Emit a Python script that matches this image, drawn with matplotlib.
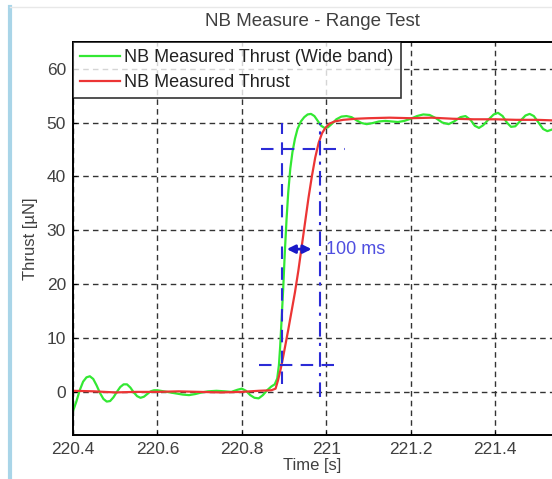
import matplotlib.pyplot as plt
from matplotlib.lines import Line2D

# Step 1: data
# wide band measurement (green)
t_wide = [220.400, 220.408, 220.416, 220.424, 220.432, 220.440, 220.448, 220.456, 220.464, 220.472,
          220.480, 220.488, 220.496, 220.504, 220.512, 220.520, 220.528, 220.536, 220.544, 220.552,
          220.560, 220.568, 220.576, 220.584, 220.592, 220.600, 220.615, 220.630, 220.645, 220.660,
          220.675, 220.690, 220.705, 220.720, 220.740, 220.760, 220.775, 220.790, 220.800, 220.810,
          220.820, 220.830, 220.840, 220.850, 220.860, 220.870, 220.878, 220.884, 220.888, 220.891,
          220.894, 220.898, 220.902, 220.906, 220.910, 220.915, 220.920, 220.926, 220.932, 220.940,
          220.948, 220.956, 220.964, 220.972, 220.980, 220.988, 220.996, 221.004, 221.014, 221.024,
          221.036, 221.048, 221.060, 221.072, 221.084, 221.096, 221.110, 221.125, 221.140, 221.155,
          221.170, 221.185, 221.200, 221.215, 221.230, 221.245, 221.260, 221.275, 221.290, 221.303,
          221.318, 221.330, 221.342, 221.352, 221.362, 221.372, 221.385, 221.397, 221.407, 221.418,
          221.428, 221.438, 221.448, 221.460, 221.472, 221.482, 221.492, 221.503, 221.514, 221.524,
          221.535]
thrust_wide = [-3.6, -1.8, 0.3, 1.9, 2.7, 2.9, 2.4, 1.2, -0.2, -1.3,
               -1.8, -1.7, -1.0, 0.0, 0.9, 1.4, 1.4, 0.8, -0.1, -0.8,
               -1.1, -0.9, -0.4, 0.1, 0.3, 0.3, 0.1, -0.1, -0.3, -0.5,
               -0.6, -0.4, -0.1, 0.1, 0.2, 0.1, 0.0, 0.4, 0.6, 0.2,
               -0.6, -1.1, -1.2, -0.6, 0.3, 1.0, 1.4, 2.5, 5.0, 8.5,
               13.0, 19.0, 26.0, 32.0, 37.0, 41.5, 44.5, 47.0, 48.8, 50.2,
               51.0, 51.5, 51.6, 51.2, 50.3, 49.4, 49.0, 49.1, 49.8, 50.6,
               51.1, 51.2, 51.0, 50.4, 49.9, 49.7, 49.9, 50.2, 50.3, 50.2,
               50.1, 50.3, 50.7, 51.2, 51.5, 51.4, 50.8, 50.0, 49.7, 50.2,
               51.0, 51.2, 50.5, 49.4, 49.0, 49.5, 50.6, 51.5, 51.8, 51.2,
               50.0, 49.2, 49.3, 50.3, 51.3, 51.6, 51.2, 50.0, 48.8, 48.4,
               48.7]

# filtered measurement (red)
t_filt = [220.400, 220.450, 220.500, 220.550, 220.600, 220.650, 220.700, 220.750, 220.800, 220.840,
          220.870, 220.880, 220.886, 220.892, 220.898, 220.904, 220.910, 220.918, 220.926, 220.934,
          220.942, 220.950, 220.958, 220.966, 220.974, 220.982, 220.990, 220.998, 221.008, 221.020,
          221.040, 221.070, 221.100, 221.150, 221.200, 221.250, 221.300, 221.350, 221.400, 221.450,
          221.500, 221.535]
thrust_filt = [0.2, 0.1, -0.1, 0.0, 0.0, 0.1, 0.0, -0.1, 0.0, 0.2,
               0.3, 0.6, 2.2, 4.2, 6.5, 9.0, 11.5, 15.0, 18.5, 22.5,
               27.0, 31.5, 36.0, 40.0, 43.5, 46.2, 48.0, 49.0, 49.8, 50.2,
               50.5, 50.7, 50.8, 50.9, 50.8, 50.9, 50.7, 50.6, 50.6, 50.5,
               50.5, 50.4]

# rise time markers (10 % / 90 % levels and the 100 ms span)
rise_start = 220.895
rise_end = 220.986
level_low = 5
level_high = 45
arrow_level = 26.5
arrow_span = [220.900, 220.972]

xticks = [220.4, 220.6, 220.8, 221.0, 221.2, 221.4]
xtick_labels = ['220.4', '220.6', '220.8', '221', '221.2', '221.4']
yticks = [0, 10, 20, 30, 40, 50, 60]

plt.rcParams['font.family'] = ['Liberation Sans', 'DejaVu Sans']
text_col = '#404040'
blue = '#2b2bd6'

# Step 2: figure and axes
fig = plt.figure(figsize=(5.52, 4.79), dpi=100)
ax = fig.add_axes([0.1322, 0.0919, 0.8678, 0.8210])

ax.plot(t_wide, thrust_wide, color='#33e833', linewidth=1.6, label='NB Measured Thrust (Wide band)')
ax.plot(t_filt, thrust_filt, color='#ec3535', linewidth=1.6, label='NB Measured Thrust')

# rise time construction lines
ax.plot([rise_start, rise_start], [1.5, 50], color=blue, linewidth=1.5, linestyle=(0, (6, 4)))
ax.plot([rise_end, rise_end], [-1, 50], color=blue, linewidth=1.5, linestyle=(0, (7, 3, 1.5, 3)))
ax.plot([220.845, 221.045], [level_high, level_high], color=blue, linewidth=1.5, linestyle=(0, (6, 4)))
ax.plot([220.840, 221.030], [level_low, level_low], color=blue, linewidth=1.5, linestyle=(0, (6, 4)))
ax.annotate('', xy=(arrow_span[0], arrow_level), xytext=(arrow_span[1], arrow_level),
            arrowprops=dict(arrowstyle='<|-|>', color='#1a1ac8', lw=2, mutation_scale=12))
ax.text(221.0, arrow_level, '100 ms', color='#4f4fe0', fontsize=13, va='center', ha='left')

# Step 3: axes styling
ax.set_xlim(220.4, 221.535)
ax.set_ylim(-8, 65)
ax.set_xticks(xticks)
ax.set_xticklabels(xtick_labels)
ax.set_yticks(yticks)
ax.tick_params(labelsize=12.5, labelcolor=text_col, direction='in', length=3, pad=5)
ax.grid(True, color='#333333', linestyle=(0, (4, 3)), linewidth=1.0)
ax.set_axisbelow(True)
ax.spines['right'].set_visible(False)
for s in ['left', 'bottom', 'top']:
    ax.spines[s].set_linewidth(1.4)

ax.set_title('NB Measure - Range Test', fontsize=13.5, color=text_col, pad=11)
ax.set_xlabel('Time [s]', fontsize=12, color=text_col, labelpad=1)
ax.set_ylabel('Thrust [µN]', fontsize=12, color=text_col, labelpad=6)

leg = ax.legend(loc='upper left', borderaxespad=0, fontsize=13, fancybox=False,
                handlelength=2.2, handletextpad=0.25, borderpad=0.4, labelspacing=0.45)
leg.get_frame().set_edgecolor('black')
leg.get_frame().set_linewidth(1.2)
for t in leg.get_texts():
    t.set_color('#222222')

# light window border of the screenshot
fig.add_artist(Line2D([0.019, 0.019], [0, 0.985], color='#a9d5e8', linewidth=3))
fig.add_artist(Line2D([0.019, 1.0], [0.986, 0.986], color='#e8e8e8', linewidth=1))

fig.savefig('out.png', dpi=100)
